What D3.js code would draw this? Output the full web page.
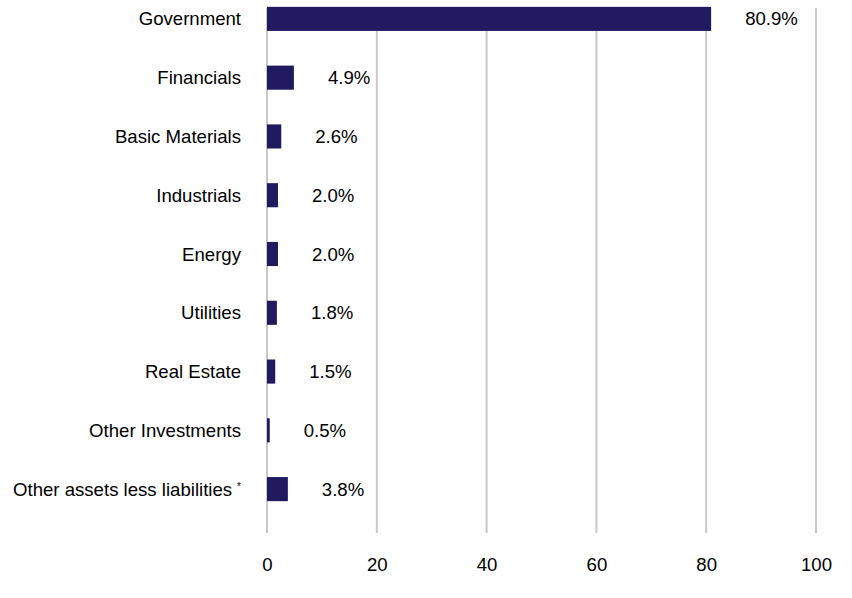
<!DOCTYPE html>
<html>
<head>
<meta charset="utf-8">
<script src="https://cdn.jsdelivr.net/npm/d3@7"></script>
<style>
  body { margin: 0; background: #fff; }
  text { font-family: "Liberation Sans", Arial, sans-serif; fill: #000; }
</style>
</head>
<body>
<div id="chart"></div>
<script>
// data
var categories = ["Government", "Financials", "Basic Materials", "Industrials", "Energy",
    "Utilities", "Real Estate", "Other Investments", "Other assets less liabilities"];
var values = [80.9, 4.9, 2.6, 2.0, 2.0, 1.8, 1.5, 0.5, 3.8];
var valueLabels = ["80.9%", "4.9%", "2.6%", "2.0%", "2.0%", "1.8%", "1.5%", "0.5%", "3.8%"];
var xTicks = [0, 20, 40, 60, 80, 100];

var svgWidth = 852;
var svgHeight = 598;
var fontSize = 18.6;

var svg = d3.select("#chart")
    .append("svg")
    .attr("width", svgWidth)
    .attr("height", svgHeight);

// scales
var xScale = d3.scaleLinear()
    .domain([0, 100])
    .range([267, 816]);

var yScale = d3.scaleBand()
    .domain(categories)
    .range([-10.5, 518.5])
    .paddingInner(0.59)
    .paddingOuter(0.295);

// grid lines
svg.append("g")
    .selectAll("line")
    .data(xTicks)
    .enter()
    .append("line")
    .attr("x1", d => xScale(d))
    .attr("x2", d => xScale(d))
    .attr("y1", 8)
    .attr("y2", 533)
    .attr("stroke", "#c8c8c8")
    .attr("stroke-width", 2);

// bottom axis (labels only)
var bottomAxis = d3.axisBottom(xScale)
    .tickValues(xTicks)
    .tickSize(0)
    .tickPadding(0);

var xAxis = svg.append("g")
    .attr("transform", "translate(0,558)")
    .call(bottomAxis);
xAxis.select(".domain").remove();
xAxis.selectAll("text")
    .attr("font-size", fontSize)
    .attr("font-family", "Liberation Sans, Arial, sans-serif")
    .attr("fill", "#000");

// bars
svg.append("g")
    .selectAll("rect")
    .data(values)
    .enter()
    .append("rect")
    .attr("x", xScale(0))
    .attr("y", (d, i) => yScale(categories[i]))
    .attr("width", d => xScale(d) - xScale(0))
    .attr("height", yScale.bandwidth())
    .attr("fill", "#211a60");

// value labels
svg.append("g")
    .selectAll("text")
    .data(values)
    .enter()
    .append("text")
    .attr("x", d => xScale(d) + 34)
    .attr("y", (d, i) => yScale(categories[i]) + yScale.bandwidth() / 2)
    .attr("dy", "0.35em")
    .attr("font-size", fontSize)
    .text((d, i) => valueLabels[i]);

// category labels
var catLabels = svg.append("g")
    .selectAll("text")
    .data(categories)
    .enter()
    .append("text")
    .attr("x", 241)
    .attr("y", d => yScale(d) + yScale.bandwidth() / 2)
    .attr("dy", "0.35em")
    .attr("text-anchor", "end")
    .attr("font-size", fontSize);

catLabels.append("tspan").text(d => d);
catLabels.filter(d => d === "Other assets less liabilities")
    .append("tspan")
    .attr("dx", 5)
    .attr("dy", "-0.55em")
    .attr("font-size", 10)
    .text("*");
</script>
</body>
</html>
